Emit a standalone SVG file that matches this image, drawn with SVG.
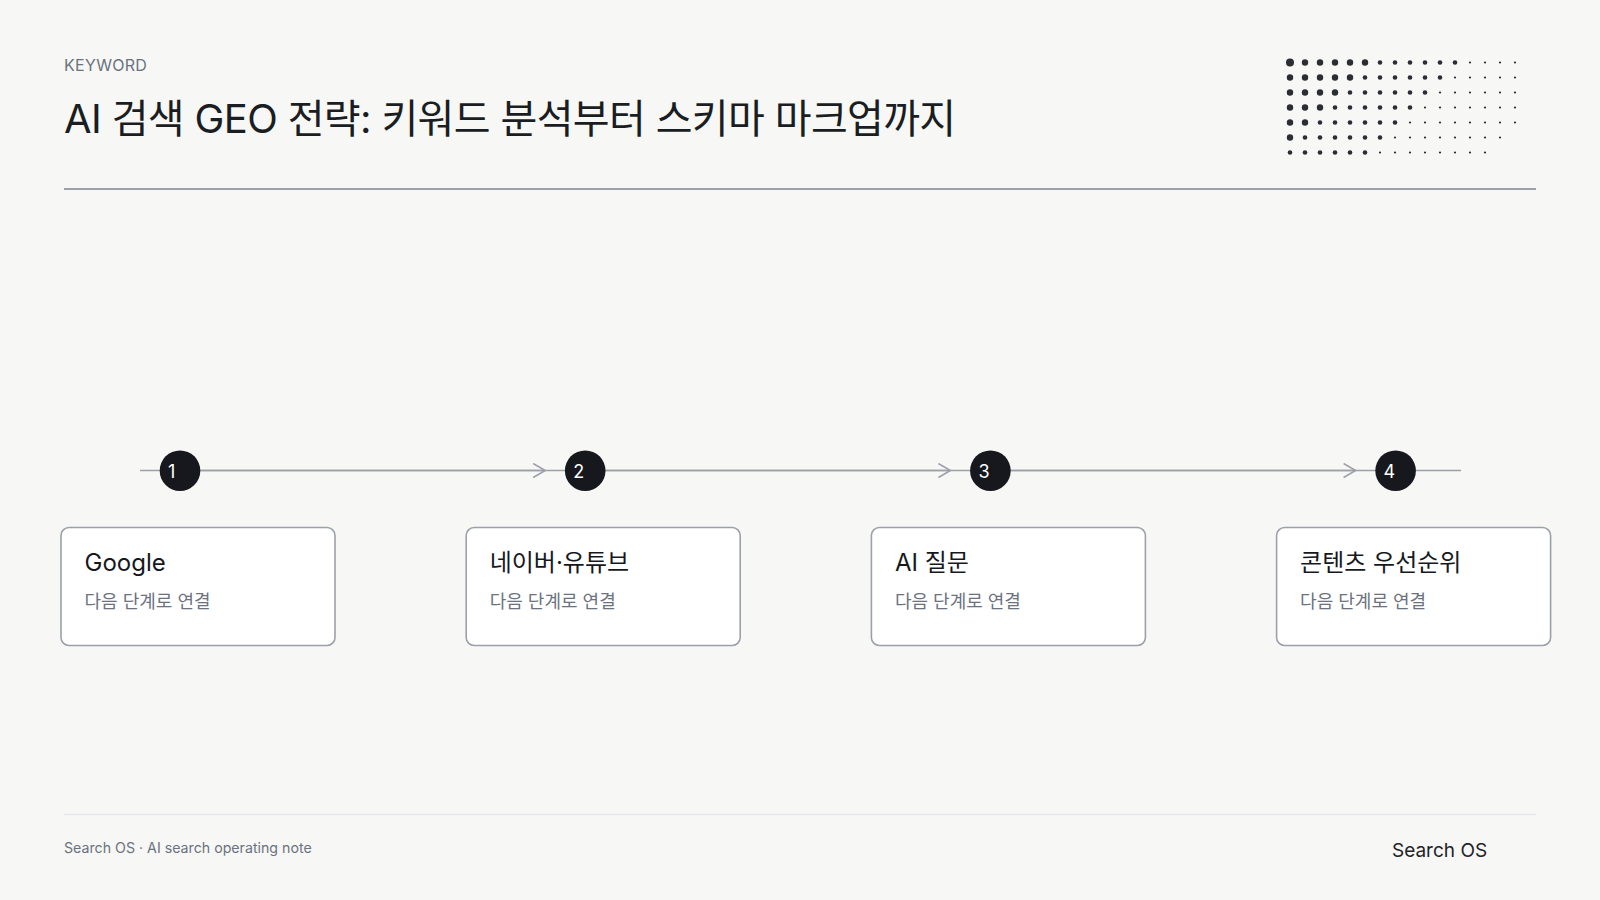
<svg xmlns="http://www.w3.org/2000/svg" width="1600" height="900" viewBox="0 0 1600 900">
  <defs>
    <style>
      .sans { font-family: Inter, "Noto Sans CJK KR", "Noto Sans", sans-serif; }
      .eyebrow { font-size: 16px; fill: #6b7280; letter-spacing: 0.3px; }
      .title { font-size: 40px; fill: #1a1d22; letter-spacing: -0.65px; }
      .card { fill: #ffffff; stroke: #9ca1a9; stroke-width: 1.6; }
      .card-title { font-size: 24px; fill: #16181d; }
      .card-sub { font-size: 18px; fill: #6b7280; }
      .badge { fill: #16181d; }
      .badge-num { font-size: 18px; fill: #ffffff; }
      .track { stroke: #9ca1a9; stroke-width: 1.6; fill: none; }
      .dot { fill: #2a2d33; }
      .foot { font-size: 14.2px; fill: #6b7280; }
      .foot-brand { font-size: 19px; fill: #1f2328; }
    </style>
    <marker id="chev" viewBox="-13 -8 15 16" refX="0" refY="0" markerWidth="15" markerHeight="16" markerUnits="userSpaceOnUse" orient="auto">
      <path d="M-12,-7 L0,0 L-12,7" fill="none" stroke="#9ca1a9" stroke-width="1.6"/>
    </marker>
  </defs>

  <rect x="0" y="0" width="1600" height="900" fill="#f7f7f5"/>

  <g id="header">
    <text class="sans eyebrow" x="64" y="71">KEYWORD</text>
    <text class="sans title" x="64" y="132.5">AI 검색 GEO 전략: 키워드 분석부터 스키마 마크업까지</text>
    <line x1="64" y1="189" x2="1536" y2="189" stroke="#9ca1a9" stroke-width="2"/>
  </g>

  <g id="dots" class="dot">
    <circle cx="1290" cy="62.5" r="4"/><circle cx="1305" cy="62.5" r="3.2"/><circle cx="1320" cy="62.5" r="3.2"/><circle cx="1335" cy="62.5" r="3.2"/><circle cx="1350" cy="62.5" r="3.2"/><circle cx="1365" cy="62.5" r="3.2"/><circle cx="1380" cy="62.5" r="2.3"/><circle cx="1395" cy="62.5" r="2.3"/><circle cx="1410" cy="62.5" r="2.3"/><circle cx="1425" cy="62.5" r="2.3"/><circle cx="1440" cy="62.5" r="2.3"/><circle cx="1455" cy="62.5" r="2.3"/><circle cx="1470" cy="62.5" r="1.1"/><circle cx="1485" cy="62.5" r="1.1"/><circle cx="1500" cy="62.5" r="1.1"/><circle cx="1515" cy="62.5" r="1.1"/>
    <circle cx="1290" cy="77.5" r="3.2"/><circle cx="1305" cy="77.5" r="3.2"/><circle cx="1320" cy="77.5" r="3.2"/><circle cx="1335" cy="77.5" r="3.2"/><circle cx="1350" cy="77.5" r="3.2"/><circle cx="1365" cy="77.5" r="2.3"/><circle cx="1380" cy="77.5" r="2.3"/><circle cx="1395" cy="77.5" r="2.3"/><circle cx="1410" cy="77.5" r="2.3"/><circle cx="1425" cy="77.5" r="2.3"/><circle cx="1440" cy="77.5" r="2.3"/><circle cx="1455" cy="77.5" r="1.1"/><circle cx="1470" cy="77.5" r="1.1"/><circle cx="1485" cy="77.5" r="1.1"/><circle cx="1500" cy="77.5" r="1.1"/><circle cx="1515" cy="77.5" r="1.1"/>
    <circle cx="1290" cy="92.5" r="3.2"/><circle cx="1305" cy="92.5" r="3.2"/><circle cx="1320" cy="92.5" r="3.2"/><circle cx="1335" cy="92.5" r="3.2"/><circle cx="1350" cy="92.5" r="2.3"/><circle cx="1365" cy="92.5" r="2.3"/><circle cx="1380" cy="92.5" r="2.3"/><circle cx="1395" cy="92.5" r="2.3"/><circle cx="1410" cy="92.5" r="2.3"/><circle cx="1425" cy="92.5" r="2.3"/><circle cx="1440" cy="92.5" r="1.1"/><circle cx="1455" cy="92.5" r="1.1"/><circle cx="1470" cy="92.5" r="1.1"/><circle cx="1485" cy="92.5" r="1.1"/><circle cx="1500" cy="92.5" r="1.1"/><circle cx="1515" cy="92.5" r="1.1"/>
    <circle cx="1290" cy="107.5" r="3.2"/><circle cx="1305" cy="107.5" r="3.2"/><circle cx="1320" cy="107.5" r="3.2"/><circle cx="1335" cy="107.5" r="2.3"/><circle cx="1350" cy="107.5" r="2.3"/><circle cx="1365" cy="107.5" r="2.3"/><circle cx="1380" cy="107.5" r="2.3"/><circle cx="1395" cy="107.5" r="2.3"/><circle cx="1410" cy="107.5" r="2.3"/><circle cx="1425" cy="107.5" r="1.1"/><circle cx="1440" cy="107.5" r="1.1"/><circle cx="1455" cy="107.5" r="1.1"/><circle cx="1470" cy="107.5" r="1.1"/><circle cx="1485" cy="107.5" r="1.1"/><circle cx="1500" cy="107.5" r="1.1"/><circle cx="1515" cy="107.5" r="1.1"/>
    <circle cx="1290" cy="122.5" r="3.2"/><circle cx="1305" cy="122.5" r="3.2"/><circle cx="1320" cy="122.5" r="2.3"/><circle cx="1335" cy="122.5" r="2.3"/><circle cx="1350" cy="122.5" r="2.3"/><circle cx="1365" cy="122.5" r="2.3"/><circle cx="1380" cy="122.5" r="2.3"/><circle cx="1395" cy="122.5" r="2.3"/><circle cx="1410" cy="122.5" r="1.1"/><circle cx="1425" cy="122.5" r="1.1"/><circle cx="1440" cy="122.5" r="1.1"/><circle cx="1455" cy="122.5" r="1.1"/><circle cx="1470" cy="122.5" r="1.1"/><circle cx="1485" cy="122.5" r="1.1"/><circle cx="1500" cy="122.5" r="1.1"/><circle cx="1515" cy="122.5" r="1.1"/>
    <circle cx="1290" cy="137.5" r="3.2"/><circle cx="1305" cy="137.5" r="2.3"/><circle cx="1320" cy="137.5" r="2.3"/><circle cx="1335" cy="137.5" r="2.3"/><circle cx="1350" cy="137.5" r="2.3"/><circle cx="1365" cy="137.5" r="2.3"/><circle cx="1380" cy="137.5" r="2.3"/><circle cx="1395" cy="137.5" r="1.1"/><circle cx="1410" cy="137.5" r="1.1"/><circle cx="1425" cy="137.5" r="1.1"/><circle cx="1440" cy="137.5" r="1.1"/><circle cx="1455" cy="137.5" r="1.1"/><circle cx="1470" cy="137.5" r="1.1"/><circle cx="1485" cy="137.5" r="1.1"/><circle cx="1500" cy="137.5" r="1.1"/>
    <circle cx="1290" cy="152.5" r="2.3"/><circle cx="1305" cy="152.5" r="2.3"/><circle cx="1320" cy="152.5" r="2.3"/><circle cx="1335" cy="152.5" r="2.3"/><circle cx="1350" cy="152.5" r="2.3"/><circle cx="1365" cy="152.5" r="2.3"/><circle cx="1380" cy="152.5" r="1.1"/><circle cx="1395" cy="152.5" r="1.1"/><circle cx="1410" cy="152.5" r="1.1"/><circle cx="1425" cy="152.5" r="1.1"/><circle cx="1440" cy="152.5" r="1.1"/><circle cx="1455" cy="152.5" r="1.1"/><circle cx="1470" cy="152.5" r="1.1"/><circle cx="1485" cy="152.5" r="1.1"/>
  </g>

  <g id="connectors">
    <line class="track" x1="140" y1="470.5" x2="1461" y2="470.5"/>
    <path class="track" d="M200,470.5 L545.2,470.5" marker-end="url(#chev)"/>
    <path class="track" d="M605.2,470.5 L950.4,470.5" marker-end="url(#chev)"/>
    <path class="track" d="M1010.4,470.5 L1355.6,470.5" marker-end="url(#chev)"/>
  </g>

  <g id="node-1">
    <circle class="badge" cx="180" cy="470.7" r="20.3"/>
    <text class="sans badge-num" x="168" y="477.5">1</text>
    <rect class="card" x="61" y="527.5" width="274" height="118" rx="8"/>
    <text class="sans card-title" x="84.5" y="570.5">Google</text>
    <text class="sans card-sub" x="84.5" y="607.5">다음 단계로 연결</text>
  </g>

  <g id="node-2">
    <circle class="badge" cx="585.2" cy="470.7" r="20.3"/>
    <text class="sans badge-num" x="573.2" y="477.5">2</text>
    <rect class="card" x="466.2" y="527.5" width="274" height="118" rx="8"/>
    <text class="sans card-title" x="489.7" y="570.5">네이버·유튜브</text>
    <text class="sans card-sub" x="489.7" y="607.5">다음 단계로 연결</text>
  </g>

  <g id="node-3">
    <circle class="badge" cx="990.4" cy="470.7" r="20.3"/>
    <text class="sans badge-num" x="978.4" y="477.5">3</text>
    <rect class="card" x="871.4" y="527.5" width="274" height="118" rx="8"/>
    <text class="sans card-title" x="894.9" y="570.5">AI 질문</text>
    <text class="sans card-sub" x="894.9" y="607.5">다음 단계로 연결</text>
  </g>

  <g id="node-4">
    <circle class="badge" cx="1395.6" cy="470.7" r="20.3"/>
    <text class="sans badge-num" x="1383.6" y="477.5">4</text>
    <rect class="card" x="1276.6" y="527.5" width="274" height="118" rx="8"/>
    <text class="sans card-title" x="1300.1" y="570.5">콘텐츠 우선순위</text>
    <text class="sans card-sub" x="1300.1" y="607.5">다음 단계로 연결</text>
  </g>

  <g id="footer">
    <line x1="64" y1="814.5" x2="1536" y2="814.5" stroke="#e3e6ea" stroke-width="1.6"/>
    <text class="sans foot" x="64" y="852.7">Search OS · AI search operating note</text>
    <text class="sans foot-brand" x="1392" y="857.3">Search OS</text>
  </g>
</svg>
